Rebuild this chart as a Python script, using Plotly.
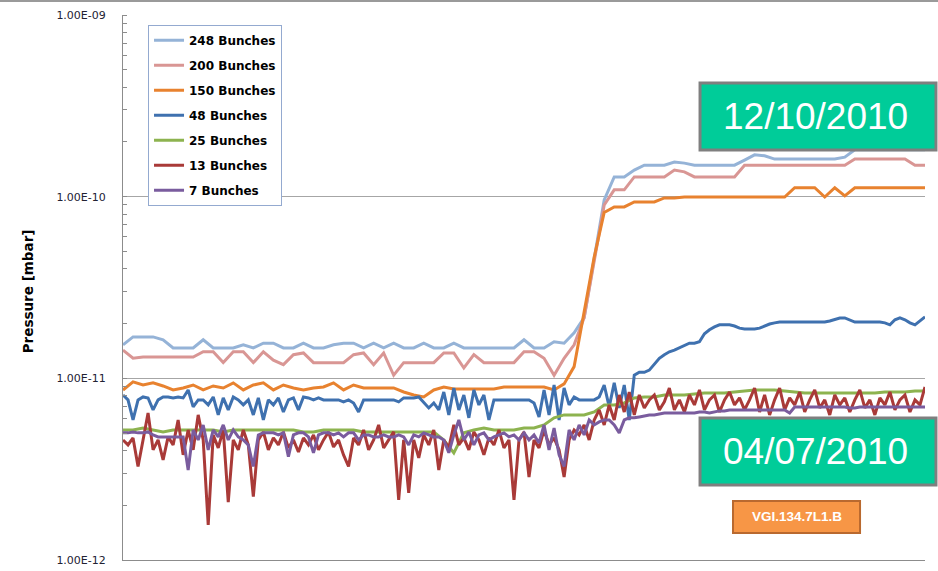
import numpy as np
import plotly.graph_objects as go

# pressures in units of 1e-12 mbar
# coarse series: one sample every 2 time steps, fine series: every step
b248 = [
    15.3, 16.9, 16.9, 16.9, 16.3, 14.7, 14.7, 14.7, 16.3, 14.7,
    14.7, 14.7, 15.3, 14.7, 15.6, 15.6, 14.7, 14.7, 15.6, 14.7,
    14.7, 15.3, 15.6, 15.6, 14.7, 15.6, 14.7, 15.6, 14.7, 14.7,
    15.6, 14.7, 14.7, 15.6, 14.7, 14.7, 14.7, 14.7, 14.7, 14.7,
    16.3, 14.7, 14.7, 15.9, 15.6, 17.8, 21.6, 46.5, 95.9, 128.5,
    128.5, 140, 149, 149, 149, 155, 153, 149, 149, 149,
    149, 149, 159, 170, 168, 161, 161, 161, 161, 161,
    161, 161, 165, 181, 181, 181, 181, 181, 181, 181,
    181,
]
b200 = [
    14.3, 12.9, 13.1, 13.1, 13.1, 13.1, 13.1, 13.1, 14.0, 14.0,
    12.2, 14.0, 14.0, 12.2, 14.0, 12.6, 11.9, 13.5, 13.8, 12.2,
    12.2, 12.2, 12.2, 13.5, 13.8, 11.9, 13.8, 10.4, 12.2, 12.2,
    12.2, 12.2, 13.8, 13.8, 11.4, 13.5, 12.2, 12.2, 12.2, 12.2,
    14.0, 14.0, 12.9, 10.4, 12.9, 15.3, 21.6, 44.7, 90.0, 109,
    109, 128.5, 128.5, 128.5, 128.5, 140, 137, 128.5, 128.5, 128.5,
    128.5, 128.5, 149, 149, 149, 149, 149, 149, 149, 149,
    149, 149, 149, 161, 161, 161, 161, 161, 161, 149,
    149,
]
b150 = [
    8.63, 9.56, 9.19, 9.44, 9.08, 8.63, 8.85, 9.19, 8.63, 9.08,
    8.85, 9.44, 8.63, 9.19, 9.44, 8.63, 9.19, 8.85, 8.63, 8.85,
    8.96, 9.44, 8.63, 9.19, 8.85, 8.85, 8.85, 8.85, 8.41, 8.10,
    7.90, 8.63, 8.96, 8.74, 8.74, 8.74, 8.74, 8.74, 8.96, 8.96,
    8.96, 8.96, 8.96, 8.63, 9.32, 11.6, 23.8, 46.5, 81.8, 87.8,
    87.8, 93.5, 93.5, 93.5, 98.4, 98.4, 99.6, 99.6, 99.6, 99.6,
    99.6, 99.6, 99.6, 99.6, 99.6, 99.6, 99.6, 112, 112, 112,
    99.6, 112, 101, 112, 112, 112, 112, 112, 112, 112,
    112,
]
b25 = [
    5.20, 5.20, 5.33, 5.20, 5.07, 5.20, 5.20, 5.20, 5.20, 5.20,
    5.07, 5.20, 5.20, 5.20, 5.20, 5.20, 5.20, 5.20, 5.07, 5.07,
    5.20, 5.20, 5.20, 5.20, 5.07, 5.07, 5.07, 5.07, 5.07, 5.07,
    5.07, 5.07, 4.58, 3.89, 5.01, 5.20, 5.33, 5.20, 5.20, 5.20,
    5.33, 5.33, 5.54, 6.06, 6.29, 6.29, 6.29, 6.53, 7.14, 7.14,
    7.32, 7.80, 7.90, 7.90, 8.10, 8.10, 8.10, 8.20, 8.31, 8.31,
    8.31, 8.41, 8.52, 8.63, 8.63, 8.63, 8.52, 8.41, 8.31, 8.31,
    8.31, 8.31, 8.31, 8.31, 8.31, 8.31, 8.41, 8.41, 8.41, 8.52,
    8.52,
]
b48 = [
    8.10, 7.61, 5.90, 7.61, 7.90, 7.80, 6.70, 7.61, 7.90, 7.90,
    7.80, 7.90, 7.80, 8.63, 6.96, 7.61, 7.61, 7.14, 7.90, 6.29,
    7.80, 6.70, 7.90, 7.61, 7.14, 7.61, 6.29, 7.80, 5.90, 7.61,
    7.14, 7.80, 6.53, 7.61, 7.80, 6.70, 7.90, 7.80, 7.61, 7.80,
    7.61, 7.61, 7.61, 7.61, 7.42, 7.61, 7.32, 6.53, 7.61, 7.61,
    7.61, 7.61, 7.61, 7.61, 7.61, 7.42, 7.80, 7.80, 7.80, 7.90,
    7.32, 6.87, 7.32, 6.70, 8.41, 6.29, 8.85, 6.70, 8.10, 6.06,
    8.63, 7.14, 8.10, 5.90, 7.61, 7.61, 7.61, 7.61, 7.61, 7.61,
    7.61, 7.61, 7.32, 6.13, 8.63, 6.29, 9.19, 5.90, 8.85, 7.14,
    7.90, 7.61, 7.61, 7.61, 7.61, 7.90, 9.19, 6.96, 9.44, 6.87,
    9.19, 5.90, 10.4, 10.8, 10.8, 11.1, 11.9, 12.9, 13.5, 14.0,
    14.3, 14.7, 15.1, 15.6, 15.6, 15.9, 17.6, 18.5, 19.2, 19.7,
    19.7, 19.7, 19.4, 18.9, 18.7, 18.7, 18.7, 18.9, 19.4, 19.9,
    20.2, 20.4, 20.4, 20.4, 20.4, 20.4, 20.4, 20.4, 20.4, 20.4,
    20.4, 20.7, 21.0, 21.5, 21.5, 21.0, 20.4, 20.4, 20.4, 20.4,
    20.4, 20.4, 20.2, 19.7, 21.0, 21.5, 21.0, 20.2, 19.7, 20.7,
    21.8,
]
b13 = [
    4.58, 4.30, 4.70, 3.27, 4.58, 6.45, 4.04, 4.58, 3.56, 4.76,
    4.30, 5.90, 3.79, 5.20, 4.04, 6.29, 4.58, 1.56, 4.88, 4.14,
    5.20, 2.08, 4.58, 4.04, 5.20, 4.30, 2.23, 4.58, 5.07, 4.04,
    4.70, 4.30, 5.07, 4.14, 4.58, 3.93, 4.70, 4.30, 4.88, 4.04,
    4.58, 5.07, 4.19, 4.58, 3.79, 3.27, 4.70, 4.30, 5.20, 4.04,
    4.58, 5.54, 4.14, 4.58, 5.07, 2.14, 4.58, 2.34, 4.58, 3.65,
    4.88, 4.30, 5.20, 3.13, 4.58, 4.14, 5.54, 4.30, 4.70, 4.04,
    5.07, 4.58, 3.79, 4.70, 4.30, 5.20, 4.14, 4.58, 2.14, 4.58,
    5.07, 2.86, 4.58, 4.14, 5.20, 4.30, 4.70, 4.04, 2.86, 4.58,
    5.20, 4.88, 5.54, 4.58, 5.90, 6.70, 5.54, 7.14, 5.90, 8.10,
    6.53, 8.41, 6.29, 8.10, 6.87, 7.61, 8.10, 6.70, 7.42, 8.85,
    6.70, 7.61, 6.53, 8.10, 7.14, 8.63, 6.70, 7.61, 8.10, 6.53,
    7.61, 8.41, 7.14, 7.80, 6.70, 7.61, 8.85, 6.53, 8.10, 6.29,
    7.61, 8.85, 6.70, 7.80, 7.14, 8.41, 6.53, 7.61, 8.63, 6.87,
    7.61, 6.29, 8.10, 7.14, 7.80, 6.53, 7.61, 8.63, 6.87, 7.61,
    6.29, 7.80, 7.14, 8.41, 6.70, 7.61, 8.10, 6.53, 7.61, 7.14,
    8.96,
]
b7 = [
    5.01, 5.01, 5.07, 5.01, 5.01, 5.07, 4.88, 4.76, 4.76, 4.76,
    4.76, 4.76, 4.76, 3.13, 5.20, 4.58, 5.54, 4.04, 5.20, 4.76,
    5.54, 4.58, 5.20, 4.76, 4.58, 4.30, 3.27, 4.88, 5.01, 5.01,
    5.01, 4.88, 5.01, 3.70, 4.88, 5.01, 5.01, 4.76, 3.89, 4.88,
    5.01, 5.01, 4.88, 5.01, 4.76, 5.01, 5.01, 4.58, 4.88, 4.88,
    4.76, 4.76, 4.88, 4.76, 4.76, 4.88, 4.76, 4.30, 4.88, 4.76,
    5.01, 4.88, 4.76, 4.76, 4.58, 3.89, 4.88, 5.90, 4.58, 5.07,
    4.30, 4.88, 5.01, 4.58, 4.76, 4.88, 5.01, 4.76, 4.88, 4.58,
    5.01, 4.58, 4.88, 4.41, 5.54, 4.04, 5.33, 3.79, 3.27, 5.20,
    4.58, 5.54, 4.88, 5.90, 5.54, 5.76, 5.90, 5.90, 5.54, 5.01,
    5.90, 6.06, 6.06, 6.13, 6.21, 6.29, 6.29, 6.37, 6.45, 6.45,
    6.45, 6.45, 6.45, 6.45, 6.45, 6.53, 6.53, 6.45, 6.53, 6.62,
    6.62, 6.70, 6.70, 6.70, 6.70, 6.70, 6.70, 6.70, 6.70, 6.70,
    6.70, 6.70, 6.70, 6.45, 6.96, 6.96, 6.96, 6.96, 6.96, 6.96,
    6.96, 6.96, 6.96, 6.96, 6.96, 6.87, 6.87, 6.96, 6.96, 6.96,
    6.96, 6.96, 6.96, 6.96, 6.96, 6.96, 6.96, 6.96, 6.96, 6.96,
    6.96,
]

series = [
    ("248 Bunches", b248, 2, "#95B3D7"),
    ("200 Bunches", b200, 2, "#D99694"),
    ("150 Bunches", b150, 2, "#E8822F"),
    ("48 Bunches", b48, 1, "#3F71AF"),
    ("25 Bunches", b25, 2, "#8DB34F"),
    ("13 Bunches", b13, 1, "#A93A38"),
    ("7 Bunches", b7, 1, "#7A5C9E"),
]

tick_vals = [1e-12, 1e-11, 1e-10, 1e-9]
tick_text = ["1.00E-12", "1.00E-11", "1.00E-10", "1.00E-09"]

FONT = "DejaVu Sans"

fig = go.Figure()
for name, vals, step, color in series:
    y = np.asarray(vals, dtype=float) * 1e-12
    x = np.arange(len(y)) * step
    fig.add_trace(go.Scatter(x=x, y=y, name=name, mode="lines", legendgroup=name,
                             line=dict(color=color, width=3)))

fig.update_xaxes(range=[0, 160], showgrid=False, zeroline=False, showticklabels=False,
                 showline=True, linecolor="#8C8C8C", linewidth=1, ticks="", automargin=False)
fig.update_yaxes(type="log", range=[-12, -9], tickvals=tick_vals, ticktext=tick_text,
                 showgrid=True, gridcolor="#A6A6A6", gridwidth=1, automargin=False,
                 showline=True, linecolor="#8C8C8C", linewidth=1, ticks="",
                 ticklabelstandoff=14, tickfont=dict(family=FONT, size=11, color="#222233"),
                 minor=dict(ticks="inside", ticklen=4, tickcolor="#8C8C8C", dtick="D1", showgrid=False))

# y title as an annotation so it sits where the original one is
fig.add_annotation(text="<b>Pressure [mbar]</b>", xref="paper", yref="paper", x=-0.1185, y=0.493,
                   xanchor="center", yanchor="middle", textangle=-90, showarrow=False,
                   font=dict(family=FONT, size=13.5, color="#000000"))

# date boxes and sensor tag
fig.add_shape(type="rect", xref="paper", yref="paper", x0=0.7195, x1=1.0137, y0=0.7523, y1=0.8752,
              fillcolor="#00CC99", line=dict(color="#7F7F7F", width=3))
fig.add_annotation(text="12/10/2010", xref="paper", yref="paper", x=0.864, y=0.8138,
                   xanchor="center", yanchor="middle", showarrow=False,
                   font=dict(family="Liberation Sans", size=37, color="white"))
fig.add_shape(type="rect", xref="paper", yref="paper", x0=0.7195, x1=1.0137, y0=0.1376, y1=0.2606,
              fillcolor="#00CC99", line=dict(color="#7F7F7F", width=3))
fig.add_annotation(text="04/07/2010", xref="paper", yref="paper", x=0.864, y=0.199,
                   xanchor="center", yanchor="middle", showarrow=False,
                   font=dict(family="Liberation Sans", size=37, color="white"))
fig.add_shape(type="rect", xref="paper", yref="paper", x0=0.7606, x1=0.919, y0=0.0495, y1=0.1083,
              fillcolor="#F79646", line=dict(color="#B9692F", width=2))
fig.add_annotation(text="<b>VGI.134.7L1.B</b>", xref="paper", yref="paper", x=0.8398, y=0.079,
                   xanchor="center", yanchor="middle", showarrow=False,
                   font=dict(family="Liberation Sans", size=13.5, color="white"))

# slide border at the very top
fig.add_shape(type="line", xref="paper", yref="paper", x0=-0.16, x1=1.02, y0=1.0255, y1=1.0255,
              line=dict(color="#9A9A9A", width=2))

fig.update_layout(
    width=938,
    height=571,
    template="plotly_white",
    plot_bgcolor="white",
    paper_bgcolor="white",
    margin=dict(l=123, r=13, t=15, b=11, pad=0),
    font=dict(family=FONT),
    showlegend=True,
    legend=dict(x=0.0312, y=0.982, xanchor="left", yanchor="top", bgcolor="white",
                bordercolor="#94AAD0", borderwidth=1, tracegroupgap=6, itemwidth=30,
                font=dict(family=FONT, size=12, color="#000000", weight="bold")),
)

# drop the default page margin so the figure sits at the window's corner
fig.write_html("out.html", config={"displayModeBar": False},
               post_script="document.body.style.margin='0';")
